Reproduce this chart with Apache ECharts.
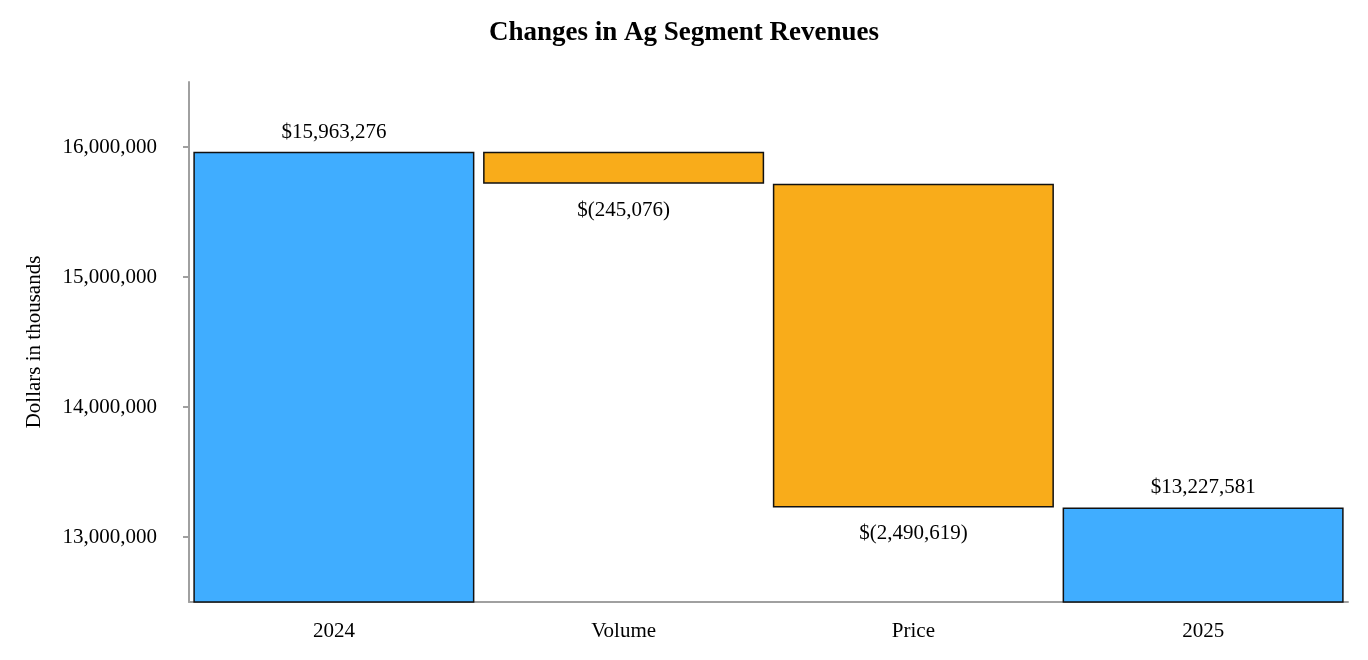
<!DOCTYPE html>
<html>
<head>
<meta charset="utf-8">
<script src="https://cdn.jsdelivr.net/npm/echarts@6/dist/echarts.min.js"></script>
<style>html,body{margin:0;padding:0;background:#fff;}#c{width:1368px;height:660px;}</style>
</head>
<body>
<div id="c"></div>
<script>
const categories = ['2024', 'Volume', 'Price', '2025'];
const totals = [15963276, null, null, 13227581];
const changes = [null, -245076, -2490619, null];
const yTicks = [13000000, 14000000, 15000000, 16000000];

// running base for floating (decrease) bars
const base = [];
let running = 0;
for (let i = 0; i < categories.length; i++) {
  if (totals[i] != null) { running = totals[i]; base.push(0); }
  else { running += changes[i]; base.push(running); }
}
const totalData = totals.map(v => v == null ? '-' : v);
const changeData = changes.map(v => v == null ? '-' : -v);

const fmt = n => n.toLocaleString('en-US');
const FONT = "'Liberation Serif', 'Times New Roman', serif";

const chart = echarts.init(document.getElementById('c'));
chart.setOption({
  animation: false,
  backgroundColor: '#fff',
  title: {
    text: 'Changes in Ag Segment Revenues',
    left: 'center', top: 15,
    textStyle: { fontFamily: FONT, fontSize: 27, fontWeight: 'bold', color: '#000' }
  },
  grid: { left: 189, right: 20, top: 82, bottom: 58 },
  xAxis: {
    type: 'category',
    data: categories,
    axisLine: { lineStyle: { color: '#a0a0a0', width: 2 } },
    axisTick: { alignWithLabel: true, length: 6, lineStyle: { color: '#a0a0a0', width: 2 } },
    axisLabel: { fontFamily: FONT, fontSize: 21, color: '#000', margin: 19 }
  },
  yAxis: {
    type: 'value',
    min: 12500000, max: 16500000,
    name: 'Dollars in thousands',
    nameLocation: 'middle',
    nameGap: 144,
    nameTextStyle: { fontFamily: FONT, fontSize: 21, color: '#000' },
    splitLine: { show: false },
    axisLine: { show: true, lineStyle: { color: '#a0a0a0', width: 2 } },
    axisTick: { show: true, length: 6, customValues: yTicks, lineStyle: { color: '#a0a0a0', width: 2 } },
    axisLabel: { customValues: yTicks, fontFamily: FONT, fontSize: 21, color: '#000', margin: 32, formatter: v => fmt(v) }
  },
  series: [
    {
      type: 'bar', stack: 'w', data: base,
      itemStyle: { color: 'transparent', borderColor: 'transparent' },
      emphasis: { disabled: true }, silent: true,
      barCategoryGap: '3%'
    },
    {
      type: 'bar', stack: 'w', data: totalData,
      itemStyle: { color: '#40adff', borderColor: '#111', borderWidth: 1.5 },
      label: { show: true, position: 'top', distance: 9, fontFamily: FONT, fontSize: 21, color: '#000',
        formatter: p => '$' + fmt(p.value) },
      barCategoryGap: '3%'
    },
    {
      type: 'bar', stack: 'w', data: changeData,
      itemStyle: { color: '#f9ac1a', borderColor: '#111', borderWidth: 1.5 },
      label: { show: true, position: 'bottom', distance: 16, fontFamily: FONT, fontSize: 21, color: '#000',
        formatter: p => '$(' + fmt(p.value) + ')' },
      barCategoryGap: '3%'
    }
  ]
});
</script>
</body>
</html>
